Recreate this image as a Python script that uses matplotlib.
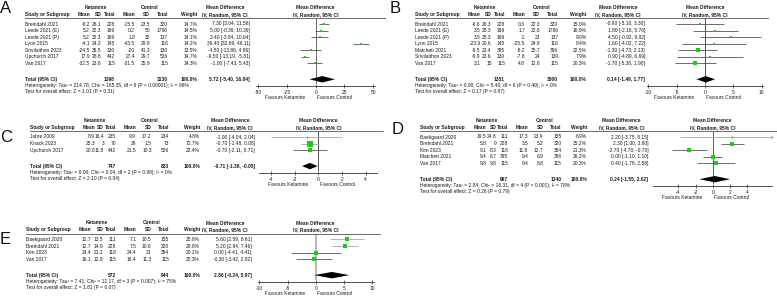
import math
import matplotlib
matplotlib.use('Agg')
import matplotlib.pyplot as plt
from matplotlib.lines import Line2D

plt.rcParams['font.family'] = ['Liberation Sans', 'DejaVu Sans']

# ---------------- data ----------------
A_studies = ["Breindahl 2021", "Leede 2021 (E)", "Leede 2021 (P)", "Lyon 2015",
             "Srivilaithon 2023", "Upchurch 2017", "Van 2017"]
A_ket_mean = [-8.2, 5.2, 5.2, -4.1, -24.5, 17.9, -32.5]
A_ket_sd = [26.1, 32.3, 32.3, 24.3, 35.5, 28.8, 23.8]
A_ket_n = [228, 169, 169, 145, 130, 442, 115]
A_ctl_mean = [-15.5, 0.2, 1.8, -43.5, -20, 27.4, -31.5]
A_ctl_sd = [23.5, 50, 32, 29.8, 41.3, 29.7, 25.9]
A_ctl_n = [320, 1786, 137, 116, 130, 526, 115]
A_weight = [14.7, 14.5, 14.1, 14.2, 13.5, 14.7, 14.3]
A_md = [7.30, 5.00, 3.40, 39.40, -4.50, -9.50, -1.00]
A_lo = [3.04, -0.39, -3.84, 32.69, -13.86, -13.19, -7.43]
A_hi = [11.56, 10.39, 10.64, 46.11, 4.86, -5.81, 5.43]
A_total = [1398, 3130, 100.0, 5.72, -5.40, 16.84]
A_het = "Heterogeneity: Tau² = 214.78; Chi² = 165.35, df = 6 (P < 0.00001); I² = 96%"
A_test = "Test for overall effect: Z = 1.01 (P = 0.31)"
A_ticks = [-50, -25, 0, 25, 50]

B_studies = ["Breindahl 2021", "Leede 2021 (E)", "Leede 2021 (P)", "Lyon 2015",
             "Matchett 2021", "Srivilaithon 2023", "Van 2017"]
B_ket_mean = [-0.6, 3.5, 3.5, -23.9, -9.5, -6.9, 3.1]
B_ket_sd = [26.3, 25.3, 25.3, 20.6, 23.4, 23.6, 15]
B_ket_n = [228, 169, 169, 145, 395, 130, 115]
B_ctl_mean = [0.3, 1.7, -1, -25.5, -8.2, -7.8, 4.8]
B_ctl_sd = [22.3, 22.6, 23, 24.8, 25.7, 24, 12.8]
B_ctl_n = [320, 1786, 137, 116, 396, 130, 115]
B_weight = [15.0, 16.9, 9.0, 8.4, 22.5, 7.9, 20.3]
B_md = [-0.90, 1.80, 4.50, 1.60, -1.30, 0.90, -1.70]
B_lo = [-5.10, -2.16, -0.92, -4.02, -4.73, -4.89, -5.30]
B_hi = [3.30, 5.76, 9.92, 7.22, 2.13, 6.69, 1.90]
B_total = [1351, 3000, 100.0, 0.14, -1.49, 1.77]
B_het = "Heterogeneity: Tau² = 0.00; Chi² = 5.40, df = 6 (P = 0.49); I² = 0%"
B_test = "Test for overall effect: Z = 0.17 (P = 0.87)"
B_ticks = [-10, -5, 0, 5, 10]

C_studies = ["Jabre 2009", "Knack 2023", "Upchurch 2017"]
C_ket_mean = [8.9, 25.3, 20.8]
C_ket_sd = [16.4, 3, 11.8]
C_ket_n = [235, 70, 442]
C_ctl_mean = [9.9, 26, 21.5]
C_ctl_sd = [17.2, 1.5, 10.3]
C_ctl_n = [234, 73, 526]
C_weight = [4.8, 72.7, 22.4]
C_md = [-1.00, -0.70, -0.70]
C_lo = [-4.04, -1.48, -2.11]
C_hi = [2.04, 0.08, 0.71]
C_total = [747, 833, 100.0, -0.71, -1.38, -0.05]
C_het = "Heterogeneity: Tau² = 0.00; Chi² = 0.04, df = 2 (P = 0.98); I² = 0%"
C_test = "Test for overall effect: Z = 2.10 (P = 0.04)"
C_ticks = [-4, -2, 0, 2, 4]

D_studies = ["Baekgaard 2020", "Breindahl 2021", "Kim 2023", "Matchett 2021", "Van 2017"]
D_ket_mean = [19.5, 5.8, 9.1, 9.4, 9.8]
D_ket_sd = [24.8, 9, 8.3, 6.7, 9.8]
D_ket_n = [111, 228, 118, 395, 115]
D_ctl_mean = [17.3, 3.5, 11.8, 9.4, 9.4]
D_ctl_sd = [23.9, 5.2, 12.7, 6.9, 6.8]
D_ctl_n = [155, 320, 354, 396, 115]
D_weight = [6.9, 25.2, 21.3, 26.2, 20.3]
D_md = [2.20, 2.30, -2.70, 0.00, 0.40]
D_lo = [-3.75, 1.00, -4.70, -1.10, -1.78]
D_hi = [8.15, 3.60, -0.70, 1.10, 2.58]
D_total = [967, 1340, 100.0, 0.24, -1.55, 2.02]
D_het = "Heterogeneity: Tau² = 2.84; Chi² = 18.31, df = 4 (P = 0.001); I² = 78%"
D_test = "Test for overall effect: Z = 0.26 (P = 0.79)"
D_ticks = [-4, -2, 0, 2, 4]

E_studies = ["Baekgaard 2020", "Breindahl 2021", "Kim 2023", "Van 2017"]
E_ket_mean = [12.7, 12.7, 24.4, 16.1]
E_ket_sd = [13.5, 14.9, 21.2, 12.8]
E_ket_n = [111, 228, 118, 115]
E_ctl_mean = [7.1, 7.5, 24.4, 16.4]
E_ctl_sd = [10.5, 10.6, 21, 11.3]
E_ctl_n = [155, 320, 354, 115]
E_weight = [25.8, 28.8, 20.2, 25.3]
E_md = [5.60, 5.20, 0.00, -0.30]
E_lo = [2.59, 2.94, -4.41, -3.42]
E_hi = [8.61, 7.46, 4.41, 2.82]
E_total = [572, 944, 100.0, 2.86, -0.24, 5.97]
E_het = "Heterogeneity: Tau² = 7.41; Chi² = 12.17, df = 3 (P = 0.007); I² = 75%"
E_test = "Test for overall effect: Z = 1.81 (P = 0.07)"
E_ticks = [-10, -5, 0, 5, 10]

col_headers = ["Mean", "SD", "Total", "Mean", "SD", "Total", "Weight"]

# ---------------- layout ----------------
W, H = 777, 297
fig = plt.figure(figsize=(W / 100, H / 100), dpi=100)
FS = 3.5
TC = '#1a1a1a'
GREEN = '#1ec81e'


def fx(px):
    return px / W


def fy(py):
    return 1 - py / H


def put(x, y, s, ha='left', bold=False, size=FS, color=TC):
    fig.text(fx(x), fy(y), s, ha=ha, va='center', fontsize=size,
             fontweight='bold' if bold else 'normal', color=color)


def hline(x0, x1, y, color='#555555', lw=0.6):
    fig.add_artist(Line2D([fx(x0), fx(x1)], [fy(y), fy(y)],
                          transform=fig.transFigure, color=color, lw=lw))


def fmt(v):
    return f"{v:g}"


def panel(label, d, c):
    x0, top = c['x0'], c['top']
    dy = c.get('dy', 6.55)
    cols = [x0 + v for v in c['cols']]
    sx = x0 + c['study']
    put(x0 + c['lab'][0], c['lab'][1], label, size=12, color='#111111')
    put(x0 + c['ket_c'], top + 7.3, 'Ketamine', ha='center', bold=True)
    put(x0 + c['ctl_c'], top + 7.3, 'Control', ha='center', bold=True)
    put(sx, top + 14.2, 'Study or Subgroup', bold=True)
    for h, cx in zip(col_headers, cols):
        put(cx, top + 14.2, h, ha='right', bold=True)
    put(x0 + c['md_c'], top + 7.8, 'Mean Difference', ha='center', bold=True)
    put(x0 + c['md_c'], top + 14.2, 'IV, Random, 95% CI', ha='center', bold=True)
    zero = x0 + c['zero']
    put(zero, top + 7.8, 'Mean Difference', ha='center', bold=True)
    put(zero, top + 14.2, 'IV, Random, 95% CI', ha='center', bold=True)
    ul = top + 18.0
    hline(sx, x0 + c['line_r'], ul)

    n = len(d['studies'])
    ys = [top + 24 + dy * i for i in range(n)]
    for i, y in enumerate(ys):
        put(sx, y, d['studies'][i])
        vals = [d['km'][i], d['ks'][i], d['kn'][i], d['cm'][i], d['cs'][i], d['cn'][i]]
        for v, cx in zip(vals, cols[:6]):
            put(cx, y, fmt(v), ha='right')
        put(cols[6], y, f"{d['w'][i]:.1f}%", ha='right')
        put(x0 + c['ci_r'], y, f"{d['md'][i]:.2f} [{d['lo'][i]:.2f}, {d['hi'][i]:.2f}]", ha='right')

    ty = ys[-1] + 16
    tot = d['total']
    put(sx, ty, 'Total (95% CI)', bold=True)
    put(cols[2], ty, f"{tot[0]}", ha='right', bold=True)
    put(cols[5], ty, f"{tot[1]}", ha='right', bold=True)
    put(cols[6], ty, f"{tot[2]:.1f}%", ha='right', bold=True)
    put(x0 + c['ci_r'], ty, f"{tot[3]:.2f} [{tot[4]:.2f}, {tot[5]:.2f}]", ha='right', bold=True)
    put(sx, ty + 6.1, d['het'])
    put(sx, ty + 12.3, d['test'])

    # forest axes
    axis_y = ty + 6.8
    half, ppu = c['half'], c['ppu']
    lpx, rpx = zero - half * ppu, zero + half * ppu
    ax = fig.add_axes([fx(lpx), fy(axis_y), (rpx - lpx) / W, (axis_y - ul) / H])
    ax.set_xlim(-half, half)
    ax.set_ylim(axis_y, ul)
    ax.patch.set_visible(False)
    for s in ['top', 'left', 'right']:
        ax.spines[s].set_visible(False)
    ax.spines['bottom'].set_color('#333333')
    ax.spines['bottom'].set_linewidth(0.6)
    ax.set_yticks([])
    ticks = d['ticks']
    ax.set_xticks(ticks)
    ax.set_xticklabels([fmt(t) for t in ticks])
    ax.tick_params(axis='x', direction='inout', length=3, width=0.5, labelsize=FS,
                   pad=1.2, color='#333333', labelcolor=TC)
    ax.axvline(0, ymin=3.0 / (axis_y - ul), ymax=1, color=c['zero_color'],
               lw=c['zero_lw'], zorder=1)
    for i, y in enumerate(ys):
        lo, hi = d['lo'][i], d['hi'][i]
        col = c['ci_colors'][i]
        ax.plot([max(lo, -half), min(hi, half)], [y, y], color=col, lw=0.6,
                clip_on=False, zorder=2, solid_capstyle='butt')
        if hi > half:
            ax.plot([half], [y], marker='>', ms=2.2, color=col, mew=0, clip_on=False)
        if lo < -half:
            ax.plot([-half], [y], marker='<', ms=2.2, color=col, mew=0, clip_on=False)
        side = 0.72 * math.sqrt(d['w'][i])
        ax.plot([d['md'][i]], [y], marker='s', ms=side * 0.72, color=GREEN,
                mew=0, clip_on=False, zorder=3)
    ax.fill([tot[4], tot[3], tot[5], tot[3]], [ty, ty - 3.2, ty, ty + 3.2],
            color='black', lw=0, zorder=3)
    fc = zero + c.get('fav_shift', -4.5)
    put(fc - 6, axis_y + 11.7, 'Favours Ketamine', ha='right')
    put(fc + 6, axis_y + 11.7, 'Favours Control', ha='left')


def pack(p):
    g = globals()
    return dict(studies=g[p + '_studies'], km=g[p + '_ket_mean'], ks=g[p + '_ket_sd'],
                kn=g[p + '_ket_n'], cm=g[p + '_ctl_mean'], cs=g[p + '_ctl_sd'],
                cn=g[p + '_ctl_n'], w=g[p + '_weight'], md=g[p + '_md'], lo=g[p + '_lo'],
                hi=g[p + '_hi'], total=g[p + '_total'], het=g[p + '_het'],
                test=g[p + '_test'], ticks=g[p + '_ticks'])


DK = '#555555'
LT = '#a8a8a8'
cfg = {
    'A': dict(x0=0, top=0, lab=(0, 8.8), study=25,
              cols=[90, 101.7, 115, 135, 150, 168, 197], ket_c=96, ctl_c=150,
              md_c=225, ci_r=250, line_r=385, zero=315.7, ppu=1.15, half=51.5,
              ci_colors=[DK] * 7, zero_color=DK, zero_lw=0.6),
    'B': dict(x0=390, top=0, lab=(0, 8.8), study=25,
              cols=[90.7, 101.7, 115, 135, 150, 168.3, 196.7], ket_c=95, ctl_c=151.7,
              md_c=228, ci_r=255, line_r=378, zero=315, ppu=5.67, half=10.3,
              ci_colors=[DK] * 7, zero_color='#333333', zero_lw=0.6),
    'C': dict(x0=0, top=113, lab=(0, 137), study=30,
              cols=[95, 104, 116, 136, 151.7, 169.3, 200], ket_c=95, ctl_c=150,
              md_c=230, ci_r=255, line_r=382.7, zero=318.3, ppu=11.8, half=5.0,
              ci_colors=[LT, LT, DK], zero_color='#333333', zero_lw=0.6),
    'D': dict(x0=390, top=113, lab=(2, 130), study=30,
              cols=[96.7, 106.5, 118.3, 138.3, 153.3, 171.7, 197], ket_c=96.7, ctl_c=155,
              md_c=231.7, ci_r=258.3, line_r=387, zero=322.7, ppu=8.6, half=6.9,
              ci_colors=[LT, DK, DK, DK, DK], zero_color='#444444', zero_lw=0.6),
    'E': dict(x0=0, top=215.5, lab=(0, 240), study=26,
              cols=[91.7, 103.5, 116, 136.7, 151.7, 169.3, 200], ket_c=96.7, ctl_c=151.7,
              md_c=225, ci_r=251.7, line_r=380, zero=315.7, ppu=5.63, half=10.3,
              ci_colors=[LT, LT, DK, DK], zero_color='#bbbbbb', zero_lw=1.6),
}

for p in ['A', 'B', 'C', 'D', 'E']:
    panel(p, pack(p), cfg[p])

fig.savefig('out.png', dpi=100)
